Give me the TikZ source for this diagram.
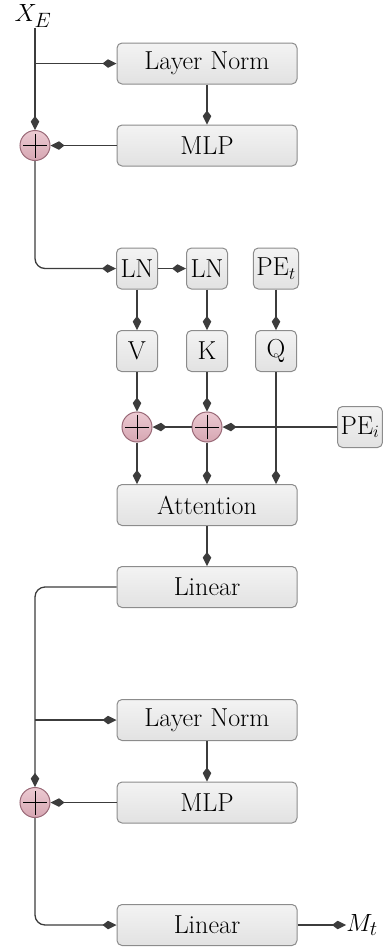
\documentclass[tikz,border=0pt]{standalone}
\usetikzlibrary{arrows.meta}
\definecolor{boxborder}{HTML}{8C8C8C}
\definecolor{boxtop}{HTML}{F3F3F3}
\definecolor{boxbot}{HTML}{E2E2E2}
\definecolor{plustop}{HTML}{ECCAD2}
\definecolor{plusbot}{HTML}{D6A6B2}
\definecolor{plusborder}{HTML}{9A6A78}
\definecolor{linecol}{HTML}{3C3C3C}
\begin{document}
\begin{tikzpicture}[x=1pt,y=-1pt,
  >={Kite[length=14pt,width=8.5pt,inset=5.5pt]},
  txt/.style={font=\fontsize{26}{30}\selectfont},
  blk/.style={txt,draw=boxborder,line width=1pt,rounded corners=5pt,top color=boxtop,bottom color=boxbot,minimum height=41pt,inner sep=3pt},
  wide/.style={blk,minimum width=180pt},
  small/.style={blk,minimum width=41pt},
  plusnode/.style={circle,draw=plusborder,line width=1pt,top color=plustop,bottom color=plusbot,minimum size=30pt,inner sep=0pt,
    path picture={\draw[black,line width=1pt]
      ([xshift=-12pt]path picture bounding box.center) -- ([xshift=12pt]path picture bounding box.center)
      ([yshift=-12pt]path picture bounding box.center) -- ([yshift=12pt]path picture bounding box.center);}},
  mlabel/.style={font=\fontsize{32}{36}\selectfont,inner sep=0pt},
  conn/.style={draw=linecol,line width=1.3pt},
]
\useasboundingbox (0,0) rectangle (388,951);

% top block
\node[mlabel] (xe) at (33,16) {$X_E$};
\node[wide] (ln1) at (207,63.5) {Layer Norm};
\node[wide] (mlp1) at (207,145.5) {MLP};
\node[plusnode] (p1) at (35,145.5) {};

% attention block
\node[small] (lnA) at (137,268.5) {LN};
\node[small] (lnB) at (207,268.5) {LN};
\node[small] (pet) at (276,268.5) {PE$_t$};
\node[small] (v) at (137,351) {V};
\node[small] (k) at (207,351) {K};
\node[small] (q) at (276,351) {Q};
\node[plusnode] (pv) at (137,427) {};
\node[plusnode] (pk) at (207,427) {};
\node[small] (pei) at (360,427) {PE$_i$};
\node[wide] (att) at (207,505) {Attention};
\node[wide] (lin1) at (207,587) {Linear};

% bottom block
\node[wide] (ln2) at (207,720) {Layer Norm};
\node[wide] (mlp2) at (207,802.5) {MLP};
\node[plusnode] (p2) at (35,802.5) {};
\node[wide] (lin2) at (207,925) {Linear};
\node[mlabel] (mt) at (362,925) {$M_t$};

% connectors
\draw[conn,->] (xe.south -| p1) -- (p1);
\draw[conn,->] (ln1.west -| p1) -- (ln1);
\draw[conn,->] (ln1) -- (mlp1);
\draw[conn,->] (mlp1) -- (p1);
\draw[conn,->,rounded corners=10pt] (p1) -- (p1 |- lnA) -- (lnA);
\draw[conn,->] (lnA) -- (lnB);
\draw[conn,->] (lnA) -- (v);
\draw[conn,->] (lnB) -- (k);
\draw[conn,->] (pet) -- (q);
\draw[conn,->] (v) -- (pv);
\draw[conn,->] (k) -- (pk);
\draw[conn,->] (pei) -- (pk);
\draw[conn,->] (pk) -- (pv);
\draw[conn,->] (pv) -- (att.north -| pv);
\draw[conn,->] (pk) -- (att.north -| pk);
\draw[conn,->] (q) -- (att.north -| q);
\draw[conn,->] (att) -- (lin1);
\draw[conn,->,rounded corners=10pt] (lin1.west) -- (lin1.west -| p2) -- (p2);
\draw[conn,->] (ln2.west -| p2) -- (ln2);
\draw[conn,->] (ln2) -- (mlp2);
\draw[conn,->] (mlp2) -- (p2);
\draw[conn,->,rounded corners=10pt] (p2) -- (p2 |- lin2) -- (lin2);
\draw[conn,->] (lin2) -- (mt);
\end{tikzpicture}
\end{document}
